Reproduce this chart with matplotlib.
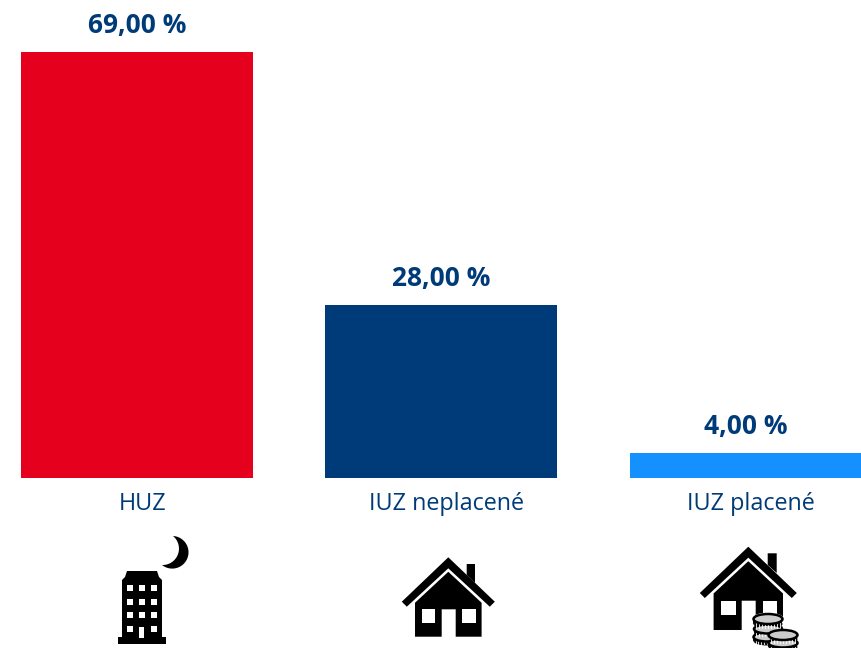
import numpy as np
import matplotlib
matplotlib.use("Agg")
import matplotlib.pyplot as plt
from matplotlib.patches import Polygon, Rectangle, Ellipse
from matplotlib.transforms import ScaledTranslation

categories = ["HUZ", "IUZ neplacené", "IUZ placené"]
values = [69, 28, 4]
colors = ["#E5001E", "#003B79", "#1490FF"]
LABEL_BLUE = "#003B79"

plt.rcParams["font.family"] = ["Open Sans", "DejaVu Sans"]
W, H = 862, 648
fig = plt.figure(figsize=(W / 100, H / 100), dpi=100, facecolor="white")

# bar axes: left edge at first bar, baseline y=478, top y=52
ax = fig.add_axes([20.8 / W, 1 - 478 / H, 841.0 / W, (478 - 52) / H])
ax.set_xlim(-0.381, 2.381)
ax.set_ylim(0, 69)
x = np.arange(len(categories))
bars = ax.bar(x, values, width=0.762, color=colors, linewidth=0)
for s in ax.spines.values():
    s.set_visible(False)
ax.yaxis.set_visible(False)
ax.set_xticks(x, categories)
ax.tick_params(axis="x", length=0, pad=10, labelsize=16.8, labelcolor=LABEL_BLUE)
shift = ScaledTranslation(5.5 / 100, 0, fig.dpi_scale_trans)
for lab in ax.get_xticklabels():
    lab.set_transform(lab.get_transform() + shift)
for xi, v in zip(x, values):
    ax.annotate(f"{v:.2f}".replace(".", ",") + " %", (xi, v), xytext=(0.2, 9.5),
                textcoords="offset points", ha="center", va="bottom",
                fontsize=19, fontweight="bold", color=LABEL_BLUE, annotation_clip=False)

# overlay in pixel coordinates for the decorative icons
ov = fig.add_axes([0, 0, 1, 1], facecolor="none")
ov.set_xlim(0, W)
ov.set_ylim(H, 0)
ov.axis("off")

def poly(pts, fc="black", z=3, **kw):
    ov.add_patch(Polygon(pts, closed=True, fc=fc, ec="none", zorder=z, **kw))

def rect(x0, y0, x1, y1, fc="white", z=4):
    ov.add_patch(Rectangle((x0, y0), x1 - x0, y1 - y0, fc=fc, ec="none", zorder=z))

# building
poly([(122, 644), (122, 580), (125, 577), (127, 571), (157, 571), (159, 577), (162, 580), (162, 644)])
rect(118, 637, 166, 644, fc="black")
for wy in (588, 602, 615, 629):
    for wx in (130, 142, 154):
        if wy == 629 and wx == 142:
            rect(139.5, 627, 144.5, 637.5)
        else:
            rect(wx - 3, wy - 2.8, wx + 3, wy + 2.8)

# moon crescent: two circular arcs through the same tips
def arc(p0, pm, p1, num=60):
    (ax0, ay0), (bx, by), (cx, cy) = p0, pm, p1
    dd = 2 * (ax0 * (by - cy) + bx * (cy - ay0) + cx * (ay0 - by))
    ux = ((ax0**2 + ay0**2) * (by - cy) + (bx**2 + by**2) * (cy - ay0) + (cx**2 + cy**2) * (ay0 - by)) / dd
    uy = ((ax0**2 + ay0**2) * (cx - bx) + (bx**2 + by**2) * (ax0 - cx) + (cx**2 + cy**2) * (bx - ax0)) / dd
    r = np.hypot(ax0 - ux, ay0 - uy)
    a0 = np.arctan2(ay0 - uy, ax0 - ux)
    a1 = np.arctan2(cy - uy, cx - ux)
    am = np.arctan2(by - uy, bx - ux)
    am = a0 + (am - a0) % (2 * np.pi)
    a1 = a0 + (a1 - a0) % (2 * np.pi)
    if am > a1:
        a1 -= 2 * np.pi
    ang = np.linspace(a0, a1, num)
    return np.c_[ux + r * np.cos(ang), uy + r * np.sin(ang)]

tip1 = (173.0, 536.0)
tip2 = (162.0, 565.0)
poly(np.r_[arc(tip1, (188.5, 552.0), tip2), arc(tip2, (178.5, 552.5), tip1)])

def house(apex_x, apex_y, half, base_y, ox, chim, win_x, win_y, door):
    ax_, ay = apex_x, apex_y
    drop = half * 0.955
    poly([(ax_, ay), (ax_ + half, ay + drop), (ax_ + half - 5, ay + drop + 5), (ax_, ay + 11),
          (ax_ - half + 5, ay + drop + 5), (ax_ - half, ay + drop)])
    poly([(chim[0], chim[2]), (chim[1], chim[2]), (chim[1], chim[3] + 8), (chim[0], chim[3])])
    top = ay + 14.5
    poly([(ax_, top), (ax_ + ox, top + ox * 0.93), (ax_ + ox, base_y), (door[1], base_y), (door[1], win_y[0]),
          (door[0], win_y[0]), (door[0], base_y), (ax_ - ox, base_y), (ax_ - ox, top + ox * 0.93)])
    for (x0, x1) in win_x:
        rect(x0, win_y[0], x1, win_y[1])

house(448.3, 557.3, 46.5, 636.7, 33.3, (466.7, 475, 564, 575),
      [(421.7, 435), (462.3, 475.7)], (609.3, 622.7), (441.7, 455.7))
house(748.3, 546.7, 48.5, 630, 34.7, (767.7, 776.7, 553.3, 565),
      [(721, 735.7), (762.7, 777)], (600.7, 615), (741.7, 755.7))

# coins
def coin(cx, cy, w, h=10, t=5):
    ov.add_patch(Rectangle((cx - w / 2 - 1.5, cy - 1), w + 3, t + 3, fc="white", ec="none", zorder=5))
    ov.add_patch(Ellipse((cx, cy + t), w + 3, h + 3, fc="white", ec="none", zorder=5))
    ov.add_patch(Ellipse((cx, cy), w + 3, h + 3, fc="white", ec="none", zorder=5))
    ov.add_patch(Ellipse((cx, cy + t), w, h, fc="#111111", ec="none", zorder=6))
    ov.add_patch(Rectangle((cx - w / 2, cy), w, t, fc="#111111", ec="none", zorder=6))
    for k in np.linspace(-0.42, 0.42, 9):
        ov.plot([cx + k * w] * 2, [cy + h / 2 * 0.85, cy + t + h / 2 * 0.75], color="white", lw=0.6, zorder=7)
    ov.add_patch(Ellipse((cx, cy), w, h, fc="#cccccc", ec="black", lw=1.8, zorder=7))

coin(767, 637, 27, 9, 4)
coin(768, 629, 28, 9, 4)
coin(768, 619, 29, 10, 5)
coin(783, 643, 29, 9, 4)
coin(783, 635, 29, 10, 4)

fig.savefig("out.png", dpi=100)
